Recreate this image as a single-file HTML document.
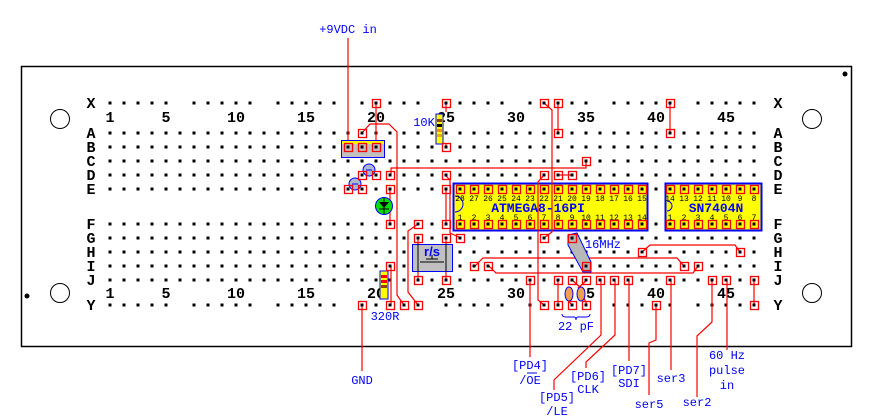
<!DOCTYPE html>
<html><head><meta charset="utf-8"><style>
html,body{margin:0;padding:0;background:#fff;width:877px;height:419px;overflow:hidden}
svg{display:block}
.l{font-family:"Liberation Mono",monospace;font-weight:bold;font-size:15px;fill:#000}
.b{font-family:"Liberation Mono",monospace;font-size:12px;fill:#0000ff}
.c{font-family:"Liberation Mono",monospace;font-size:8px;fill:#000}
</style></head><body>
<svg id="s" width="877" height="419" xmlns="http://www.w3.org/2000/svg">
<rect x="21.5" y="66.5" width="830" height="280" fill="#fff" stroke="#000" stroke-width="1.5"/>
<circle cx="60" cy="119" r="9.5" fill="none" stroke="#000"/>
<circle cx="812" cy="119" r="9.5" fill="none" stroke="#000"/>
<circle cx="60" cy="293" r="9.5" fill="none" stroke="#000"/>
<circle cx="812" cy="293" r="9.5" fill="none" stroke="#000"/>
<circle cx="845" cy="74" r="2.5" fill="#000"/>
<circle cx="27" cy="296" r="2.5" fill="#000"/>
<g id="dots"></g>
<g id="lab"></g>
<rect x="453.5" y="183.5" width="194" height="47" fill="#ffff00" stroke="#0000ff" stroke-width="2"/>
<rect x="665.5" y="183.5" width="96" height="47" fill="#ffff00" stroke="#0000ff" stroke-width="2"/>
<path d="M455 196 A8 8 0 0 1 455 212" fill="none" stroke="#0000ff"/>
<path d="M667 201 A5 5 0 0 1 667 211" fill="none" stroke="#0000ff"/>
<text x="538" y="212" font-family="Liberation Mono,monospace" font-weight="bold" font-size="13" fill="#0000ff" text-anchor="middle">ATMEGA8-16PI</text>
<text x="716" y="212" font-family="Liberation Mono,monospace" font-weight="bold" font-size="13" fill="#0000ff" text-anchor="middle">SN7404N</text>
<g id="cn"></g>
<g fill="none" stroke="#ff0000" stroke-width="1.2">
<path d="M348 38 V147"/>
<path d="M376 103 V147"/>
<path d="M362 133 L370 124 H389 L397 132 V295 L404 305"/>
<path d="M418 224 L408 231 V292 L418 305"/>
<path d="M391 175 V168 H586 V161"/>
<path d="M390 190 V224"/>
<path d="M446 103 V112 M446 143 V148"/>
<path d="M446 176 L450 180 V233 L461 238"/>
<path d="M446 190 V224"/>
<path d="M544 175 L538 182 V300 L544 305"/>
<path d="M544 103 L552 110 V232 L544 238"/>
<path d="M558 103 V133"/>
<path d="M670 103 V133"/>
<path d="M558 175 H572"/>
<path d="M418 238 V280 M446 238 V280"/>
<path d="M391 266 V305"/>
<path d="M475 266 L483 258 H677 L684 266"/>
<path d="M489 266 L496 273 H693 L698 266"/>
<path d="M642 252 L650 245 H735 L740 252"/>
<path d="M558 280 V305 M572 280 L581 288 M587 280 L578 288 M572 305 L566 298 M587 305 L584 298"/>
<path d="M754 280 V305"/>
<path d="M362 305 V371"/>
<path d="M530 280 V357"/>
<path d="M601 280 V335 L554 380 V390"/>
<path d="M615 280 V335 L586 362 V368"/>
<path d="M629 280 V361"/>
<path d="M656 305 V340 L649 343 V395"/>
<path d="M671 280 V370"/>
<path d="M712 280 V322 L697 336 V397"/>
<path d="M727 280 V350"/>
</g>
<rect x="341.5" y="140.5" width="43" height="17" fill="#c0c0c0" stroke="#0000ff"/>
<rect x="342" y="141" width="42" height="3" fill="#ffff00"/>
<circle cx="369" cy="170" r="6" fill="#b0b8d0" stroke="#0000ff"/><path d="M366 170 H372" stroke="#0000ff"/>
<circle cx="355" cy="184" r="6" fill="#b0b8d0" stroke="#0000ff"/><path d="M352 184 H358" stroke="#0000ff"/>
<circle cx="384" cy="206" r="8.5" fill="#00e000" stroke="#0000ff"/>
<path d="M379 202 H389 L384 208 Z" fill="#000"/><path d="M379 209 H389 M384 198 V214" stroke="#000"/>
<rect x="436" y="114" width="7" height="30" fill="#ffff00" stroke="#0000ff"/>
<rect x="437" y="119" width="5" height="3" fill="#8b4513"/><rect x="437" y="124" width="5" height="3" fill="#000"/><rect x="437" y="129" width="5" height="3" fill="#ff8c00"/><rect x="437" y="134" width="5" height="3" fill="#e0b000"/>
<rect x="380" y="271" width="8" height="28" fill="#ffff00" stroke="#0000ff"/>
<rect x="381" y="275" width="6" height="3" fill="#ff0000"/><rect x="381" y="280" width="6" height="3" fill="#ff0000"/><rect x="381" y="285" width="6" height="3" fill="#8b4513"/>
<path d="M568 235 L577 233 L591 262 L591 272 L583 272 L568 245 Z" fill="#b8b8b8" stroke="#0000ff"/>
<ellipse cx="569" cy="294" rx="4" ry="7" fill="#f0a050" stroke="#0000ff"/>
<ellipse cx="581" cy="294" rx="4" ry="7" fill="#f0a050" stroke="#0000ff"/>
<path d="M562 314 Q562 317 566 317 H574 Q576 317 576 320 Q576 317 578 317 H586 Q590 317 590 314" fill="none" stroke="#0000ff"/>
<rect x="412.5" y="244.5" width="40" height="27" fill="#c0c0c0" stroke="#0000ff"/>
<path d="M418 244 V272 M446 244 V272 M420 262 H444 M426 259 H438 M432 255 V259" stroke="#000"/>
<text x="432" y="256" font-family="Liberation Sans,sans-serif" font-weight="bold" font-size="13" fill="#0000ff" text-anchor="middle">r/s</text>
<g id="pins"></g>
<text class="b" x="348" y="33" text-anchor="middle">+9VDC in</text>
<text class="b" x="424" y="126" text-anchor="middle">10K</text>
<text class="b" x="385" y="320" text-anchor="middle">320R</text>
<text class="b" x="603" y="248" text-anchor="middle">16MHz</text>
<text class="b" x="576" y="330" text-anchor="middle">22 pF</text>
<text class="b" x="362" y="384" text-anchor="middle">GND</text>
<text class="b" x="530" y="369" text-anchor="middle">[PD4]</text>
<text class="b" x="530" y="384" text-anchor="middle">/OE</text><path d="M527 373 H537" stroke="#0000ff"/>
<text class="b" x="557" y="401" text-anchor="middle">[PD5]</text>
<text class="b" x="557" y="415" text-anchor="middle">/LE</text>
<text class="b" x="588" y="380" text-anchor="middle">[PD6]</text>
<text class="b" x="588" y="393" text-anchor="middle">CLK</text>
<text class="b" x="629" y="374" text-anchor="middle">[PD7]</text>
<text class="b" x="629" y="387" text-anchor="middle">SDI</text>
<text class="b" x="649" y="408" text-anchor="middle">ser5</text>
<text class="b" x="671" y="382" text-anchor="middle">ser3</text>
<text class="b" x="697" y="406" text-anchor="middle">ser2</text>
<text class="b" x="727" y="359" text-anchor="middle">60 Hz</text>
<text class="b" x="727" y="374" text-anchor="middle">pulse</text>
<text class="b" x="727" y="389" text-anchor="middle">in</text>
</svg>
<script>
var NS="http://www.w3.org/2000/svg";
function el(p,t,a,txt){var e=document.createElementNS(NS,t);for(var k in a)e.setAttribute(k,a[k]);if(txt!==undefined)e.textContent=txt;document.getElementById(p).appendChild(e);return e;}
function cx(c){return 110+(c-1)*14;}
var rows={X:103,A:133,B:147,C:161,D:175,E:189,F:224,G:238,H:252,I:266,J:280,Y:305};
for(var r in rows){for(var c=1;c<=47;c++){if((r=="X"||r=="Y")&&c%6==0)continue;el("dots","rect",{x:cx(c)-1.5,y:rows[r]-1.5,width:3,height:3,fill:"#000"});}
el("lab","text",{x:91,y:rows[r]+5,"class":"l","text-anchor":"middle"},r);
el("lab","text",{x:778,y:rows[r]+5,"class":"l","text-anchor":"middle"},r);}
[1,5,10,15,20,25,30,35,40,45].forEach(function(n){
el("lab","text",{x:cx(n),y:122,"class":"l","text-anchor":"middle"},n);
el("lab","text",{x:cx(n),y:298,"class":"l","text-anchor":"middle"},n);});
for(var i=0;i<14;i++){el("cn","text",{x:cx(26+i),y:201,"class":"c","text-anchor":"middle"},28-i);
el("cn","text",{x:cx(26+i),y:220,"class":"c","text-anchor":"middle"},i+1);}
for(var i=0;i<7;i++){el("cn","text",{x:cx(41+i),y:201,"class":"c","text-anchor":"middle"},14-i);
el("cn","text",{x:cx(41+i),y:220,"class":"c","text-anchor":"middle"},i+1);}
var P=[["X",20],["X",25],["X",32],["X",33],["X",41],["A",19],["A",33],["A",41],["B",18],["B",19],["B",20],["B",25],["C",35],
["D",19],["D",20],["D",21],["D",25],["D",32],["D",33],["D",34],["E",18],["E",19],["E",21],["E",25],
["F",21],["F",23],["F",25],["G",23],["G",25],["G",26],["G",32],["G",34],["H",39],["H",46],
["I",21],["I",27],["I",28],["I",35],["I",42],["I",43],
["J",23],["J",25],["J",31],["J",33],["J",34],["J",35],["J",36],["J",37],["J",38],["J",41],["J",44],["J",45],["J",47],
["Y",19],["Y",21],["Y",22],["Y",23],["Y",32],["Y",33],["Y",34],["Y",35],["Y",40],["Y",47]];
for(var i=26;i<=39;i++){P.push(["E",i]);P.push(["F",i]);}
for(var i=41;i<=47;i++){P.push(["E",i]);P.push(["F",i]);}
P.forEach(function(p){var x=cx(p[1]),y=rows[p[0]];
el("pins","rect",{x:x-3.5,y:y-3.5,width:8,height:8,fill:"none",stroke:"#ff0000","stroke-width":1.3});
el("pins","rect",{x:x-1.5,y:y-1.5,width:3,height:3,fill:"#000"});});
</script>
</body></html>
